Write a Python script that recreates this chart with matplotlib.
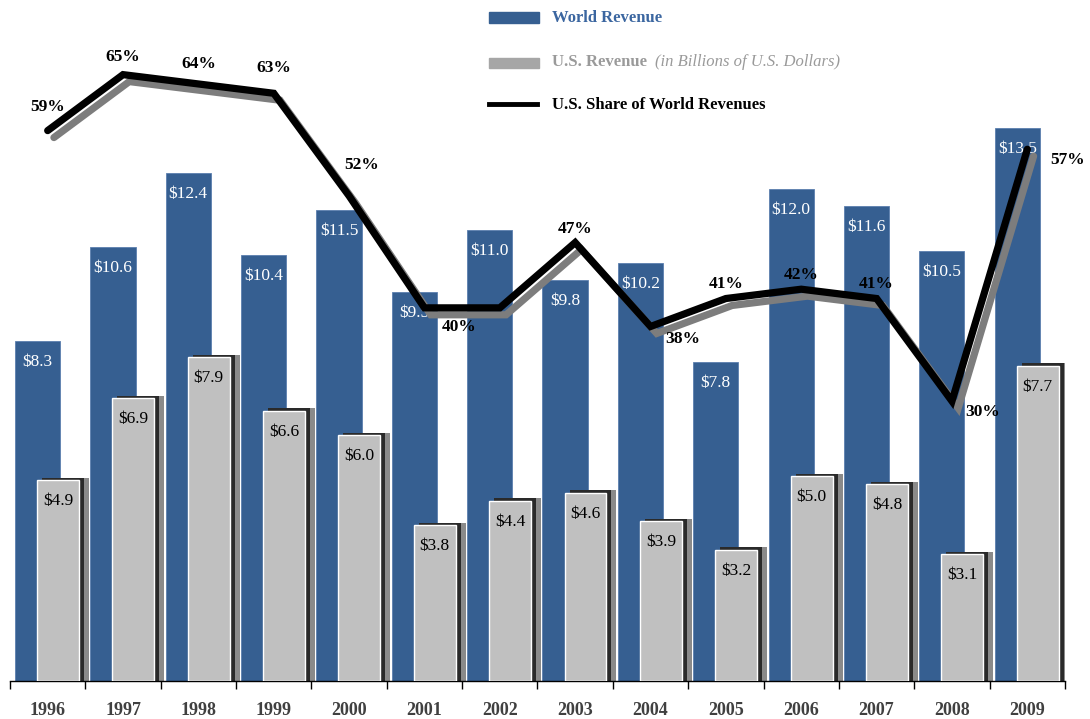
import matplotlib
matplotlib.use("Agg")
import matplotlib.pyplot as plt
import matplotlib.patheffects as pe
import numpy as np
from matplotlib.patches import Rectangle
from matplotlib.lines import Line2D

years = ["1996", "1997", "1998", "1999", "2000", "2001", "2002",
         "2003", "2004", "2005", "2006", "2007", "2008", "2009"]
world_rev = [8.3, 10.6, 12.4, 10.4, 11.5, 9.5, 11.0, 9.8, 10.2, 7.8, 12.0, 11.6, 10.5, 13.5]
us_rev = [4.9, 6.9, 7.9, 6.6, 6.0, 3.8, 4.4, 4.6, 3.9, 3.2, 5.0, 4.8, 3.1, 7.7]
us_share = [59, 65, 64, 63, 52, 40, 40, 47, 38, 41, 42, 41, 30, 57]
share_labeled = [True, True, True, True, True, True, False,
                 True, True, True, True, True, True, True]

# label offsets in pixels (dx, dy) relative to each line vertex
share_offsets = [(0, 24), (0, 18), (0, 20), (0, 25), (13, 31), (35, -19), (0, 0),
                 (0, 14), (32, -12), (0, 15), (0, 14), (0, 15), (31, -11), (40, -11)]

BLUE = "#365F91"
GREY = "#C0C0C0"
SERIF = "Liberation Serif"
PX = 72 / 100  # points per pixel

plt.rcParams["font.family"] = SERIF

fig = plt.figure(figsize=(10.9, 7.19), dpi=100)
ax = fig.add_axes([10 / 1090, 38 / 719, 1055 / 1090, 681 / 719])
ax2 = ax.twinx()

x = np.arange(len(years))
blue_w, blue_off = 0.60, -0.134
grey_w, grey_off = 0.557, 0.137
sh = 5 / 75.4
ax.bar(x + blue_off, world_rev, width=blue_w, color=BLUE, edgecolor="#5b7fae",
       linewidth=0.6, zorder=1)
ax.bar(x + grey_off + 2 * sh, np.array(us_rev) + 0.06, width=grey_w, color="#8a8a8a",
       linewidth=0, zorder=2)
ax.bar(x + grey_off + sh, np.array(us_rev) + 0.06, width=grey_w, color="#2a2a2a",
       linewidth=0, zorder=2)
ax.bar(x + grey_off, us_rev, width=grey_w, color=GREY, edgecolor="white",
       linewidth=1.0, zorder=3)

for i in range(len(years)):
    ax.annotate(f"${world_rev[i]:.1f}", (x[i] + blue_off, world_rev[i]),
                xytext=(0, -21 * PX), textcoords="offset points",
                ha="center", va="center", color="white", fontsize=12.5, zorder=4)
    ax.annotate(f"${us_rev[i]:.1f}", (x[i] + grey_off, us_rev[i]),
                xytext=(0, -21 * PX), textcoords="offset points",
                ha="center", va="center", color="black", fontsize=12.5, zorder=4)

ax.set_xlim(-0.5, len(years) - 0.5)
ax.set_ylim(0, 681 / 40.96)
ax2.set_ylim(0, 73.0)

ax2.plot(x, us_share, color="black", lw=5.2, solid_capstyle="round",
         solid_joinstyle="miter", zorder=5,
         path_effects=[pe.SimpleLineShadow(offset=(4.5, -5), shadow_color="#7d7d7d", alpha=1.0),
                       pe.Normal()])
for i in range(len(years)):
    if share_labeled[i]:
        dx, dy = share_offsets[i]
        ax2.annotate(f"{us_share[i]}%", (x[i], us_share[i]),
                     xytext=(dx * PX, dy * PX), textcoords="offset points",
                     ha="center", va="center", fontsize=12.5, fontweight="bold",
                     color="black", zorder=6)

for a in (ax, ax2):
    for s in ("top", "right", "left"):
        a.spines[s].set_visible(False)
    a.set_yticks([])
ax2.spines["bottom"].set_visible(False)
ax.spines["bottom"].set_linewidth(1.0)
ax.set_xticks(x)
ax.set_xticklabels(years, fontsize=13, fontweight="bold", color="#404040")
ax.tick_params(axis="x", which="major", length=0, pad=15)
ax.set_xticks(np.arange(-0.5, len(years)), minor=True)
ax.tick_params(axis="x", which="minor", length=6, width=1.0, direction="out")

# legend drawn in figure pixel coordinates
def fx(px):
    return px / 1090

def fy(py):
    return 1 - py / 719

fig.patches.append(Rectangle((fx(489), fy(23)), fx(50), 11 / 719, color=BLUE,
                             transform=fig.transFigure, figure=fig))
fig.patches.append(Rectangle((fx(489), fy(68)), fx(50), 10 / 719, color="#A6A6A6",
                             transform=fig.transFigure, figure=fig))
fig.lines.append(Line2D([fx(489), fx(537)], [fy(104), fy(104)], lw=3.5, color="black",
                        transform=fig.transFigure, figure=fig))
fig.text(fx(552), fy(18), "World Revenue", fontsize=12, fontweight="bold",
         color="#3B66A0", va="center", ha="left")
fig.text(fx(552), fy(62), "U.S. Revenue", fontsize=12, fontweight="bold",
         color="#9A9A9A", va="center", ha="left")
fig.text(fx(655), fy(62), "(in Billions of U.S. Dollars)", fontsize=12, style="italic",
         color="#9A9A9A", va="center", ha="left")
fig.text(fx(552), fy(105), "U.S. Share of World Revenues", fontsize=12,
         fontweight="bold", color="black", va="center", ha="left")

fig.savefig("out.png", dpi=100)
